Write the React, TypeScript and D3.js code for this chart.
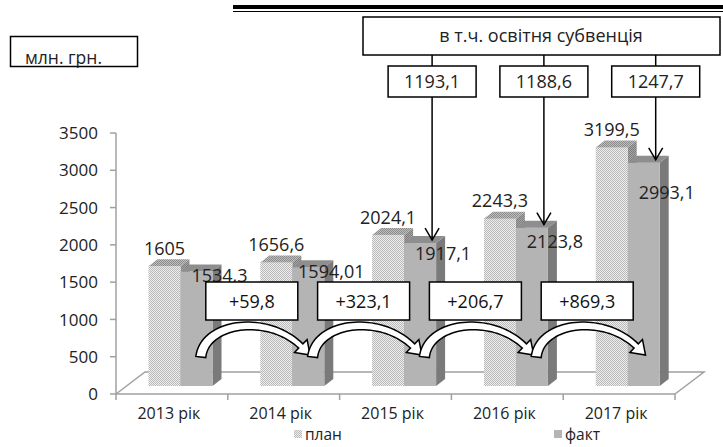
import React, { useEffect, useRef } from 'react';
import * as d3 from 'd3';

// chart values
const years = ['2013 рік', '2014 рік', '2015 рік', '2016 рік', '2017 рік'];
const planValues = [1605, 1656.6, 2024.1, 2243.3, 3199.5];
const factValues = [1534.3, 1594.01, 1917.1, 2123.8, 2993.1];
const incrementLabels = ['+59,8', '+323,1', '+206,7', '+869,3'];
const subventionYears = ['2015 рік', '2016 рік', '2017 рік'];
const subventionValues = [1193.1, 1188.6, 1247.7];
const yTicks = [0, 500, 1000, 1500, 2000, 2500, 3000, 3500];
const seriesKeys = ['plan', 'fact'];
const seriesNames = ['план', 'факт'];
const unitLabel = 'млн. грн.';
const subventionTitle = 'в т.ч. освітня субвенція';

const FONT = "'Open Sans', 'DejaVu Sans', sans-serif";

const toUa = (v: number) => String(v).replace('.', ',');

const App: React.FC = () => {
  const ref = useRef<SVGSVGElement | null>(null);

  useEffect(() => {
    const svg = d3.select(ref.current);
    svg.selectAll('*').remove();

    const width = 723;
    const height = 447;
    svg.attr('width', width).attr('height', height);

    // patterns for the dotted "plan" bars
    const defs = svg.append('defs');
    const mkPattern = (id: string, a: string, b: string) => {
      const p = defs
        .append('pattern')
        .attr('id', id)
        .attr('width', 2)
        .attr('height', 2)
        .attr('patternUnits', 'userSpaceOnUse');
      p.append('rect').attr('width', 2).attr('height', 2).attr('fill', a);
      p.append('rect').attr('width', 1).attr('height', 1).attr('fill', b);
      p.append('rect').attr('x', 1).attr('y', 1).attr('width', 1).attr('height', 1).attr('fill', b);
    };
    mkPattern('planFront', '#eeeeee', '#b9b9b9');
    mkPattern('planTop', '#bdbdbd', '#8c8c8c');
    mkPattern('planSide', '#a6a6a6', '#7c7c7c');

    // scales
    const yScale = d3.scaleLinear().domain([0, 3500]).range([394, 133]);
    const x0 = d3.scaleBand().domain(years).range([116, 675]);
    const x1 = d3.scaleBand().domain(seriesKeys).range([22, 86]);

    // 3d offsets
    const floorDx = 29;
    const floorDy = -22;
    const frontDx = 10.5;
    const frontDy = -8;
    const depthDx = 9;
    const depthDy = -7;

    const axisColor = '#a0a0a0';
    const y0 = yScale(0);
    const xL = x0.range()[0];
    const xR = x0.range()[1];

    // floor
    svg
      .append('path')
      .attr(
        'd',
        `M${xL},${y0}L${xL + floorDx},${y0 + floorDy}L${xR + floorDx},${y0 + floorDy}L${xR},${y0}`
      )
      .attr('fill', 'none')
      .attr('stroke', axisColor)
      .attr('stroke-width', 1.5);

    // y axis
    const yAxis = svg.append('g');
    yAxis
      .append('line')
      .attr('x1', xL)
      .attr('x2', xL)
      .attr('y1', yScale(3500))
      .attr('y2', y0)
      .attr('stroke', axisColor)
      .attr('stroke-width', 1.5);
    yAxis
      .selectAll('.tick')
      .data(yTicks)
      .enter()
      .append('line')
      .attr('x1', xL - 6)
      .attr('x2', xL)
      .attr('y1', (d) => yScale(d))
      .attr('y2', (d) => yScale(d))
      .attr('stroke', axisColor)
      .attr('stroke-width', 1.5);
    yAxis
      .selectAll('.lbl')
      .data(yTicks)
      .enter()
      .append('text')
      .attr('x', xL - 18)
      .attr('y', (d) => yScale(d))
      .attr('dy', '0.36em')
      .attr('text-anchor', 'end')
      .attr('font-family', FONT)
      .attr('font-size', 17)
      .attr('fill', '#222')
      .text((d) => d);

    // x axis
    const xAxis = svg.append('g');
    xAxis
      .append('line')
      .attr('x1', xL)
      .attr('x2', xR)
      .attr('y1', y0)
      .attr('y2', y0)
      .attr('stroke', axisColor)
      .attr('stroke-width', 1.5);
    const bounds = years.map((y) => x0(y)!).concat([xR]);
    xAxis
      .selectAll('.tick')
      .data(bounds)
      .enter()
      .append('line')
      .attr('x1', (d) => d)
      .attr('x2', (d) => d)
      .attr('y1', y0)
      .attr('y2', y0 + 6)
      .attr('stroke', axisColor)
      .attr('stroke-width', 1.5);
    xAxis
      .selectAll('.lbl')
      .data(years)
      .enter()
      .append('text')
      .attr('x', (d) => x0(d)! + x0.bandwidth() / 2 - 3)
      .attr('y', 413)
      .attr('dy', '0.36em')
      .attr('text-anchor', 'middle')
      .attr('font-family', FONT)
      .attr('font-size', 16)
      .attr('fill', '#222')
      .text((d) => d);

    // bars
    const colors: Record<string, { front: string; top: string; side: string }> = {
      plan: { front: 'url(#planFront)', top: 'url(#planTop)', side: 'url(#planSide)' },
      fact: { front: '#b4b4b4', top: '#8e8e8e', side: '#7a7a7a' },
    };
    const barGeom = (i: number, key: string) => {
      const v = key === 'plan' ? planValues[i] : factValues[i];
      const x = x0(years[i])! + x1(key)! + frontDx;
      const w = x1.bandwidth();
      const top = yScale(v) + frontDy;
      const bot = y0 + frontDy;
      return { x, w, top, bot, v };
    };
    const bars = svg.append('g');
    years.forEach((_, i) => {
      seriesKeys.forEach((key) => {
        const { x, w, top, bot } = barGeom(i, key);
        const c = colors[key];
        bars
          .append('path')
          .attr(
            'd',
            `M${x + w},${top}L${x + w + depthDx},${top + depthDy}L${x + w + depthDx},${bot + depthDy}L${x + w},${bot}Z`
          )
          .attr('fill', c.side);
        bars
          .append('rect')
          .attr('x', x)
          .attr('y', top)
          .attr('width', w)
          .attr('height', bot - top)
          .attr('fill', c.front);
        bars
          .append('path')
          .attr(
            'd',
            `M${x},${top}L${x + w},${top}L${x + w + depthDx},${top + depthDy}L${x + depthDx},${top + depthDy}Z`
          )
          .attr('fill', c.top);
      });
    });

    // value labels
    const labels = svg.append('g').attr('font-family', FONT).attr('font-size', 18).attr('fill', '#222');
    years.forEach((_, i) => {
      const p = barGeom(i, 'plan');
      labels
        .append('text')
        .attr('x', p.x + p.w / 2)
        .attr('y', p.top - 18)
        .attr('dy', '0.36em')
        .attr('text-anchor', 'middle')
        .text(toUa(p.v));
      const f = barGeom(i, 'fact');
      labels
        .append('text')
        .attr('x', f.x + f.w / 2 + 23)
        .attr('y', f.top + 3 + (f.v - 1500) * 0.018)
        .attr('dy', '0.36em')
        .attr('text-anchor', 'middle')
        .text(toUa(f.v));
    });

    // curved block arrows between years with fact increments
    const curved = svg.append('g');
    const boxes = svg.append('g');
    for (let i = 0; i < years.length - 1; i++) {
      const b = x0(years[i + 1])!;
      const xt = b - 27;
      const xh = b + 85;
      const L = xh - xt;
      const P = [
        [xt, 357],
        [xt + 4, 322],
        [xt + 0.6 * L, 314],
        [xh - 12, 346],
      ];
      const bez = (t: number) => {
        const m = 1 - t;
        const a = m * m * m, bb = 3 * m * m * t, c = 3 * m * t * t, d = t * t * t;
        return [
          a * P[0][0] + bb * P[1][0] + c * P[2][0] + d * P[3][0],
          a * P[0][1] + bb * P[1][1] + c * P[2][1] + d * P[3][1],
        ];
      };
      const der = (t: number) => {
        const m = 1 - t;
        const dx =
          3 * m * m * (P[1][0] - P[0][0]) + 6 * m * t * (P[2][0] - P[1][0]) + 3 * t * t * (P[3][0] - P[2][0]);
        const dy =
          3 * m * m * (P[1][1] - P[0][1]) + 6 * m * t * (P[2][1] - P[1][1]) + 3 * t * t * (P[3][1] - P[2][1]);
        const len = Math.hypot(dx, dy);
        return [dx / len, dy / len];
      };
      const sideA: number[][] = [];
      const sideB: number[][] = [];
      const N = 40;
      for (let k = 0; k <= N; k++) {
        const t = k / N;
        const [px, py] = bez(t);
        const [tx, ty] = der(t);
        const hw = (10 - 4 * t) / 2;
        sideA.push([px - ty * hw, py + tx * hw]);
        sideB.push([px + ty * hw, py - tx * hw]);
      }
      const [ex, ey] = P[3];
      const [tx, ty] = der(1);
      const head = [
        [ex - ty * 9, ey + tx * 9],
        [ex + tx * 13, ey + ty * 13],
        [ex + ty * 9, ey - tx * 9],
      ];
      const pts = sideA.concat(head).concat(sideB.reverse());
      curved
        .append('path')
        .attr('d', d3.line()(pts as [number, number][]) + 'Z')
        .attr('fill', '#fff')
        .attr('stroke', '#000')
        .attr('stroke-width', 1.5)
        .attr('stroke-linejoin', 'miter');

      const cx = b + 24;
      boxes
        .append('rect')
        .attr('x', cx - 46)
        .attr('y', 282)
        .attr('width', 92)
        .attr('height', 38)
        .attr('fill', '#fff')
        .attr('stroke', '#000')
        .attr('stroke-width', 1.5);
      boxes
        .append('text')
        .attr('x', cx)
        .attr('y', 302)
        .attr('dy', '0.36em')
        .attr('text-anchor', 'middle')
        .attr('font-family', FONT)
        .attr('font-size', 18)
        .attr('fill', '#111')
        .text(incrementLabels[i]);
    }

    // top decorations
    svg.append('rect').attr('x', 233).attr('y', 5).attr('width', 490).attr('height', 4).attr('fill', '#000');
    svg
      .append('line')
      .attr('x1', 233)
      .attr('x2', 723)
      .attr('y1', 11.5)
      .attr('y2', 11.5)
      .attr('stroke', '#000')
      .attr('stroke-width', 1);

    // unit box
    svg
      .append('rect')
      .attr('x', 10.5)
      .attr('y', 36.5)
      .attr('width', 127)
      .attr('height', 30)
      .attr('fill', '#fff')
      .attr('stroke', '#000')
      .attr('stroke-width', 1.5);
    svg
      .append('text')
      .attr('x', 25)
      .attr('y', 64)
      .attr('font-family', FONT)
      .attr('font-size', 17.5)
      .attr('fill', '#222')
      .text(unitLabel);

    // subvention callouts
    const callouts = svg.append('g');
    callouts
      .append('rect')
      .attr('x', 363)
      .attr('y', 17)
      .attr('width', 357)
      .attr('height', 38)
      .attr('fill', '#fff')
      .attr('stroke', '#000')
      .attr('stroke-width', 1.5);
    callouts
      .append('text')
      .attr('x', 541)
      .attr('y', 36)
      .attr('dy', '0.36em')
      .attr('text-anchor', 'middle')
      .attr('font-family', FONT)
      .attr('font-size', 18)
      .attr('fill', '#222')
      .text(subventionTitle);

    subventionYears.forEach((yr, k) => {
      const i = years.indexOf(yr);
      const f = barGeom(i, 'fact');
      const ax = f.x + 28;
      const tipY = f.top - 3;
      callouts
        .append('line')
        .attr('x1', ax)
        .attr('x2', ax)
        .attr('y1', 55)
        .attr('y2', 66)
        .attr('stroke', '#000')
        .attr('stroke-width', 1.5);
      callouts
        .append('rect')
        .attr('x', ax - 44)
        .attr('y', 66)
        .attr('width', 88)
        .attr('height', 31)
        .attr('fill', '#fff')
        .attr('stroke', '#000')
        .attr('stroke-width', 1.5);
      callouts
        .append('text')
        .attr('x', ax)
        .attr('y', 82)
        .attr('dy', '0.36em')
        .attr('text-anchor', 'middle')
        .attr('font-family', FONT)
        .attr('font-size', 18)
        .attr('fill', '#222')
        .text(toUa(subventionValues[k]));
      callouts
        .append('line')
        .attr('x1', ax)
        .attr('x2', ax)
        .attr('y1', 97)
        .attr('y2', tipY)
        .attr('stroke', '#000')
        .attr('stroke-width', 1.5);
      callouts
        .append('path')
        .attr('d', `M${ax - 7},${tipY - 12}L${ax},${tipY}L${ax + 7},${tipY - 12}`)
        .attr('fill', 'none')
        .attr('stroke', '#000')
        .attr('stroke-width', 1.5);
    });

    // legend
    const legend = svg.append('g').attr('font-family', FONT).attr('font-size', 15.5).attr('fill', '#222');
    const legendX = [294, 554];
    seriesKeys.forEach((key, k) => {
      legend
        .append('rect')
        .attr('x', legendX[k])
        .attr('y', 430)
        .attr('width', 8)
        .attr('height', 8)
        .attr('fill', colors[key].front);
      legend
        .append('text')
        .attr('x', legendX[k] + 11)
        .attr('y', 434)
        .attr('dy', '0.36em')
        .text(seriesNames[k]);
    });
  }, []);

  return (
    <svg
      ref={ref}
      style={{ position: 'absolute', left: 0, top: 0, background: '#fff' }}
    ></svg>
  );
};

export default App;
